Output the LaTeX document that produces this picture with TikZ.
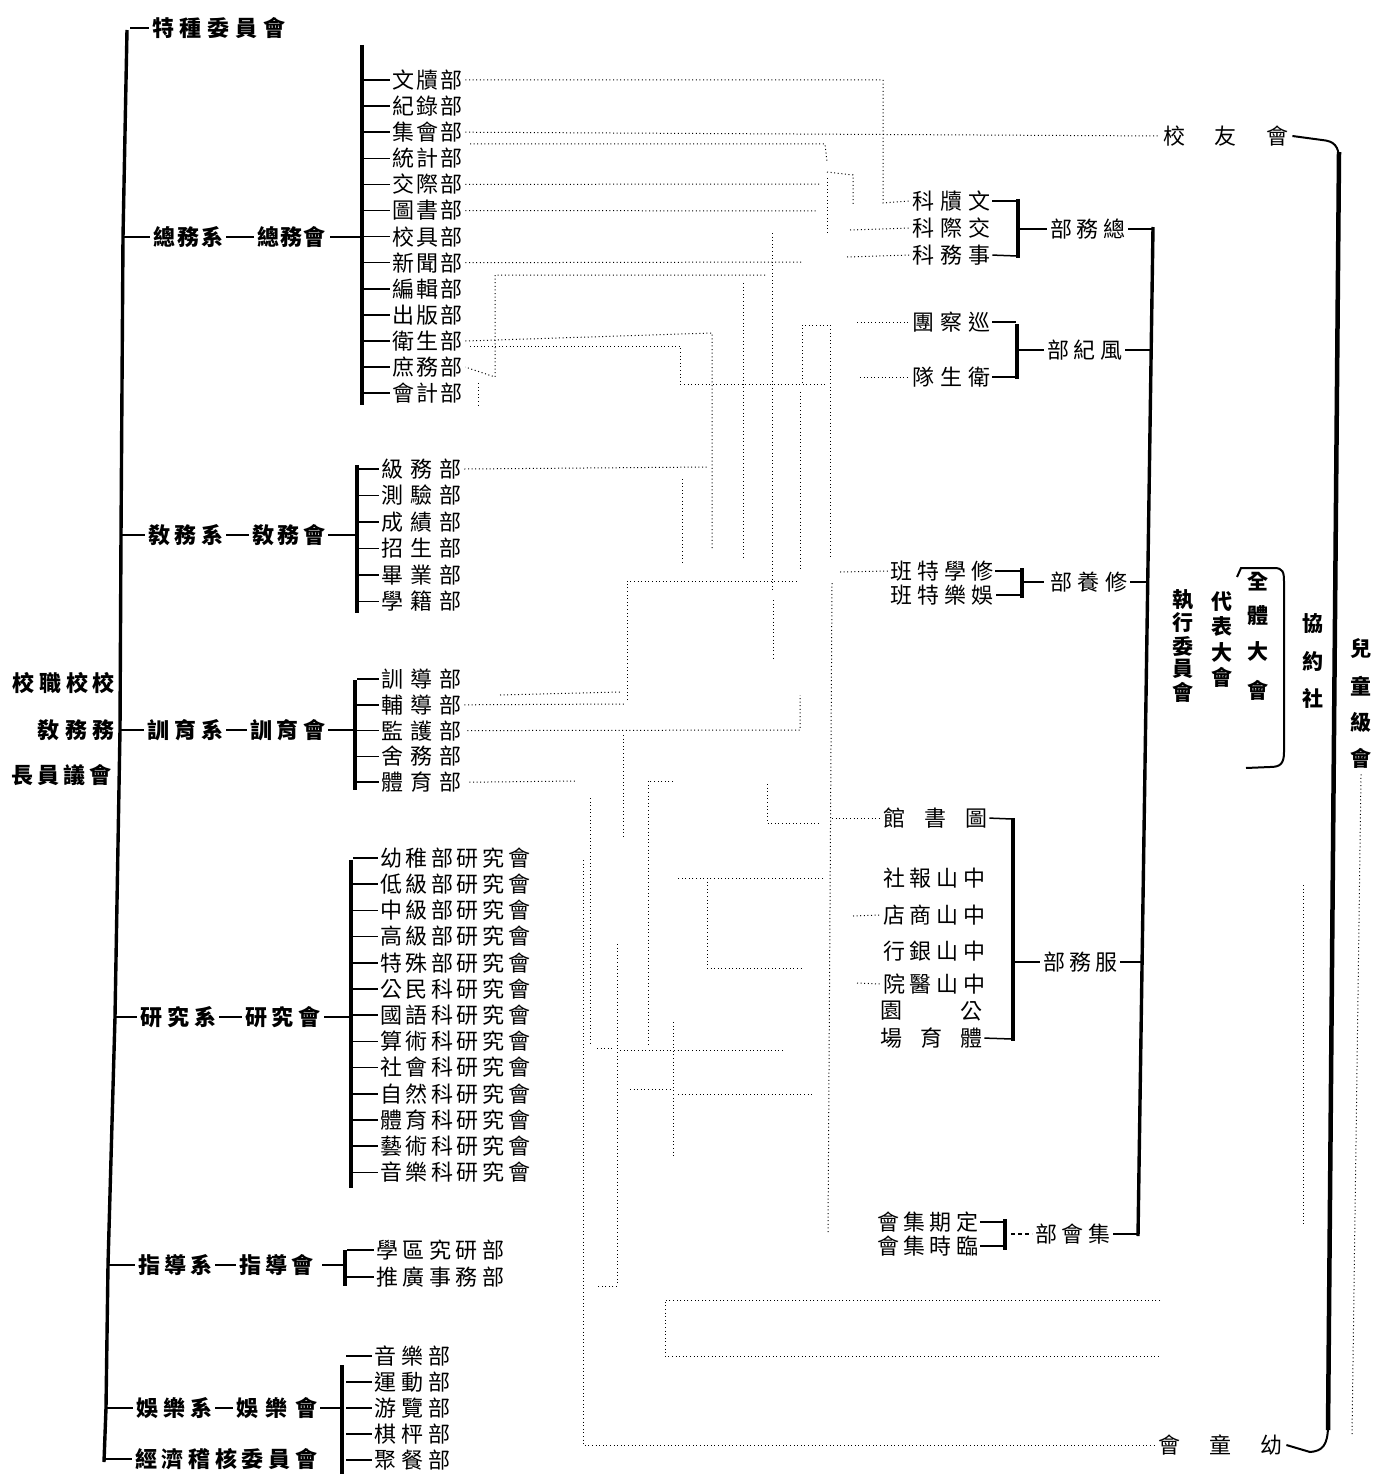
\documentclass[tikz,border=0pt]{standalone}
\usepackage{fontspec}
\setmainfont{Noto Sans CJK TC}
\newcommand\fsm{\fontsize{22}{22}\selectfont}
\newcommand\fsh{\fontsize{22}{22}\selectfont}
\newcommand\fsv{\fontsize{21}{21}\selectfont}
\def\spcA#1#2{#1\ifx\relax#2\else\hfill\expandafter\spcA\fi#2}
\newcommand\sx[2]{\makebox[#1][s]{\expandafter\spcA#2\relax}}
\tikzset{
 lt/.style={inner sep=0pt,anchor=west,font=\fsm},
 hd/.style={inner sep=0pt,anchor=west,font=\fsh\bfseries},
 vc/.style={inner sep=0pt,anchor=center,font=\fsv\bfseries},
 bar/.style={line width=3.4pt},
 tick/.style={line width=1.5pt},
 dotl/.style={line width=1pt,dash pattern=on 1pt off 2.6pt},
}
\begin{document}
\begin{tikzpicture}[x=1pt,y=-1pt]
\useasboundingbox[fill=white] (0,0) rectangle (1373,1474);

% ---------- main left line ----------
\draw[bar] (127,30) -- (123,237) -- (121,535) -- (120,730) -- (115,1017) -- (108,1265) -- (106,1408) -- (104,1462);

% left labels
\node[inner sep=0pt,anchor=east,font=\fsh\bfseries] (lb1) at (115,683) {\sx{102pt}{校職校校}};
\node[inner sep=0pt,anchor=east,font=\fsh\bfseries] (lb2) at (115,730) {\sx{77pt}{敎務務}};
\node[inner sep=0pt,anchor=east,font=\fsh\bfseries] (lb3) at (112,775) {\sx{100pt}{長員議會}};

% branches
\node[hd] (tzw) at (152,28) {\sx{133pt}{特種委員會}};
\draw[tick,shorten >=3pt] (130,28) -- (tzw.west);

\node[hd] (zwx) at (153,237) {\sx{70pt}{總務系}};
\node[hd] (zwh) at (257,237) {\sx{68pt}{總務會}};
\draw[tick,shorten >=3pt] (123,237) -- (zwx.west);
\draw[tick,shorten <=3pt,shorten >=3pt] (zwx.east) -- (zwh.west);
\draw[tick,shorten <=5pt] (zwh.east) -- (362,237);

\node[hd] (jwx) at (148,535) {\sx{75pt}{敎務系}};
\node[hd] (jwh) at (252,535) {\sx{73pt}{敎務會}};
\draw[tick,shorten >=3pt] (121,535) -- (jwx.west);
\draw[tick,shorten <=3pt,shorten >=3pt] (jwx.east) -- (jwh.west);
\draw[tick,shorten <=3pt] (jwh.east) -- (357,535);

\node[hd] (xyx) at (147,730) {\sx{76pt}{訓育系}};
\node[hd] (xyh) at (250,730) {\sx{75pt}{訓育會}};
\draw[tick,shorten >=3pt] (120,730) -- (xyx.west);
\draw[tick,shorten <=3pt,shorten >=3pt] (xyx.east) -- (xyh.west);
\draw[tick,shorten <=3pt] (xyh.east) -- (355,730);

\node[hd] (yjx) at (140,1017) {\sx{76pt}{研究系}};
\node[hd] (yjh) at (245,1017) {\sx{75pt}{研究會}};
\draw[tick,shorten >=3pt] (115,1017) -- (yjx.west);
\draw[tick,shorten <=3pt,shorten >=3pt] (yjx.east) -- (yjh.west);
\draw[tick,shorten <=4pt] (yjh.east) -- (351,1017);

\node[hd] (zdx) at (138,1265) {\sx{74pt}{指導系}};
\node[hd] (zdh) at (239,1265) {\sx{74pt}{指導會}};
\draw[tick,shorten >=3pt] (108,1265) -- (zdx.west);
\draw[tick,shorten <=3pt,shorten >=3pt] (zdx.east) -- (zdh.west);
\draw[tick,shorten <=9pt] (zdh.east) -- (345,1265);

\node[hd] (ylx) at (136,1408) {\sx{76pt}{娛樂系}};
\node[hd] (ylh) at (236,1408) {\sx{81pt}{娛樂會}};
\draw[tick,shorten >=3pt] (106,1408) -- (ylx.west);
\draw[tick,shorten <=3pt,shorten >=3pt] (ylx.east) -- (ylh.west);
\draw[tick,shorten <=3pt] (ylh.east) -- (342,1408);

\node[hd] (jjh) at (135,1459) {\sx{182pt}{經濟稽核委員會}};
\draw[tick,shorten >=3pt] (104,1459) -- (jjh.west);

% ---------- middle lists ----------
\draw[bar] (362,45) -- (362,405);
\foreach \t [count=\i from 0] in {文牘部,紀錄部,集會部,統計部,交際部,圖書部,校具部,新聞部,編輯部,出版部,衛生部,庶務部,會計部}{
  \node[lt] (zw\i) at (392,{80+26.1*\i}) {\sx{70pt}{\t}};
  \draw[tick] (364,{80+26.1*\i}) -- ([xshift=-2pt]zw\i.west);
}
\draw[bar] (357,465) -- (357,613);
\foreach \t [count=\i from 0] in {級務部,測驗部,成績部,招生部,畢業部,學籍部}{
  \node[lt] (jw\i) at (381,{469+26.5*\i}) {\sx{80pt}{\t}};
  \draw[tick] (359,{469+26.5*\i}) -- ([xshift=-2pt]jw\i.west);
}
\draw[bar] (355,680) -- (355,790);
\foreach \t [count=\i from 0] in {訓導部,輔導部,監護部,舍務部,體育部}{
  \node[lt] (xd\i) at (381,{679+25.8*\i}) {\sx{80pt}{\t}};
  \draw[tick] (357,{679+25.8*\i}) -- ([xshift=-2pt]xd\i.west);
}
\draw[bar] (351,860) -- (351,1188);
\foreach \t [count=\i from 0] in {幼稚部研究會,低級部研究會,中級部研究會,高級部研究會,特殊部研究會,公民科研究會,國語科研究會,算術科研究會,社會科研究會,自然科研究會,體育科研究會,藝術科研究會,音樂科研究會}{
  \node[lt] (yj\i) at (380,{858+26.2*\i}) {\sx{150pt}{\t}};
  \draw[tick] (353,{858+26.2*\i}) -- ([xshift=-2pt]yj\i.west);
}
\draw[bar] (345,1250) -- (345,1286);
\foreach \t [count=\i from 0] in {學區究研部,推廣事務部}{
  \node[lt] (zd\i) at (376,{1250+27*\i}) {\sx{128pt}{\t}};
  \draw[tick] (347,{1250+27*\i}) -- ([xshift=-2pt]zd\i.west);
}
\draw[bar] (342,1365) -- (342,1474);
\foreach \t [count=\i from 0] in {音樂部,運動部,游覽部,棋枰部,聚餐部}{
  \node[lt] (yl\i) at (374,{1356+26*\i}) {\sx{76pt}{\t}};
  \draw[tick] (346,{1356+26*\i}) -- ([xshift=-2pt]yl\i.west);
}

% ---------- right side ----------
\node[lt] (r1) at (912,201) {\sx{78pt}{科牘文}};
\node[lt] (r2) at (912,228) {\sx{78pt}{科際交}};
\node[lt] (r3) at (912,255) {\sx{78pt}{科務事}};
\draw[bar] (1018,199) -- (1018,258);
\draw[tick,shorten <=2pt] (r1.east) -- (1017,201);
\draw[tick,shorten <=2pt] (r3.east) -- (1017,256);
\node[lt] (zwb) at (1050,229) {\sx{75pt}{部務總}};
\draw[tick,shorten >=3pt] (1020,229) -- (zwb.west);
\draw[tick,shorten <=3pt] (zwb.east) -- (1153,229);

\node[lt] (r4) at (912,322) {\sx{78pt}{團察巡}};
\node[lt] (r5) at (912,377) {\sx{78pt}{隊生衛}};
\draw[bar] (1017,324) -- (1017,379);
\draw[tick,shorten <=2pt] (r4.east) -- (1016,322);
\draw[tick,shorten <=2pt] (r5.east) -- (1016,377);
\node[lt] (fjb) at (1047,350) {\sx{75pt}{部紀風}};
\draw[tick,shorten >=3pt] (1019,350) -- (fjb.west);
\draw[tick,shorten <=3pt] (fjb.east) -- (1151,350);

\node[lt] (r6) at (890,571) {\sx{103pt}{班特學修}};
\node[lt] (r7) at (890,595) {\sx{103pt}{班特樂娛}};
\draw[bar] (1022,568) -- (1022,598);
\draw[tick,shorten <=2pt] (r6.east) -- (1021,571);
\draw[tick,shorten <=3pt] (r7.east) -- (1021,595);
\node[lt] (xyb) at (1050,582) {\sx{77pt}{部養修}};
\draw[tick,shorten >=6pt] (1024,582) -- (xyb.west);
\draw[tick,shorten <=3pt] (xyb.east) -- (1148,582);

\node[lt] (r8) at (883,818) {\sx{104pt}{館書圖}};
\node[lt] (r9) at (883,878) {\sx{102pt}{社報山中}};
\node[lt] (r10) at (883,915) {\sx{102pt}{店商山中}};
\node[lt] (r11) at (883,951) {\sx{102pt}{行銀山中}};
\node[lt] (r12) at (883,984) {\sx{102pt}{院醫山中}};
\node[lt] (r13a) at (880,1011) {園};
\node[lt] (r13b) at (960,1011) {公};
\node[lt] (r14) at (880,1038) {\sx{102pt}{場育體}};
\draw[bar] (1013,818) -- (1013,1041);
\draw[tick,shorten <=2pt] (r8.east) -- (1012,819);
\draw[tick,shorten <=2pt] (r14.east) -- (1012,1039);
\node[lt] (fwb) at (1043,962) {\sx{74pt}{部務服}};
\draw[tick,shorten >=3pt] (1015,962) -- (fwb.west);
\draw[tick,shorten <=3pt] (fwb.east) -- (1143,962);

\node[lt] (r15) at (877,1222) {\sx{101pt}{會集期定}};
\node[lt] (r16) at (877,1246) {\sx{101pt}{會集時臨}};
\draw[bar] (1005,1219) -- (1005,1250);
\draw[tick,shorten <=2pt] (r15.east) -- (1004,1222);
\draw[tick,shorten <=2pt] (r16.east) -- (1004,1246);
\node[lt] (jhb) at (1035,1234) {\sx{75pt}{部會集}};
\draw[tick,dash pattern=on 4pt off 3pt,shorten >=3pt] (1011,1234) -- (jhb.west);
\draw[tick,shorten <=3pt] (jhb.east) -- (1139,1234);

% executive committee bracket
\draw[bar] (1153,227) -- (1138,1236);

% center vertical texts
\foreach \c/\y [count=\i] in {執/600,行/623,委/646,員/669,會/692}{\node[vc] (zx\i) at (1183,\y) {\c};}
\foreach \c/\y [count=\i] in {代/602,表/627,大/652,會/677}{\node[vc] (db\i) at (1222,\y) {\c};}
\foreach \c/\y [count=\i] in {全/582,體/616,大/651,會/690}{\node[vc] (qt\i) at (1258,\y) {\c};}
\foreach \c/\y [count=\i] in {協/624,約/661,社/698}{\node[vc] (xs\i) at (1313,\y) {\c};}
\draw[line width=2pt] (1237,577) -- (1241,568) -- (1274,568) .. controls (1283,568) and (1284,572) .. (1284,582) -- (1284,752) .. controls (1284,764) and (1280,767) .. (1270,767) -- (1246,768);

% outer brace
\node[lt] (xyou) at (1163,136) {\sx{125pt}{校友會}};
\node[lt] (ytong) at (1158,1445) {\sx{124pt}{會童幼}};
\draw[line width=2pt] ([xshift=4pt]xyou.east) -- (1322,140) .. controls (1334,141) and (1339,146) .. (1339,160);
\draw[line width=4.5pt] (1339,152) -- (1328,1430);
\draw[line width=2pt] (1328,1425) .. controls (1328,1446) and (1322,1451) .. (1310,1452) -- ([xshift=4pt]ytong.east);
\foreach \c/\y [count=\i] in {兒/648,童/686,級/722,會/758}{\node[vc] (er\i) at (1361,\y) {\c};}
\draw[dotl] ([yshift=-6pt]er4.south) -- (1352,1435);
\draw[dotl] (1303,885) -- (1303,1225);

% ---------- dotted connections ----------
\draw[dotl] ([xshift=3pt]zw0.east) -- (883,80) -- (883,203) -- ([xshift=-2pt]r1.west);
\draw[dotl] ([xshift=3pt]zw2.east) -- ([xshift=-3pt]xyou.west);
\draw[dotl] (470,144) -- (825,144) -- (827,162);
\draw[dotl] ([xshift=3pt]zw4.east) -- (820,184);
\draw[dotl] (827,172) -- (853,175) -- (853,205);
\draw[dotl] (827,178) -- (827,233);
\draw[dotl] ([xshift=3pt]zw5.east) -- (817,211);
\draw[dotl] (850,230) -- ([xshift=-2pt]r2.west);
\draw[dotl] (847,257) -- ([xshift=-2pt]r3.west);
\draw[dotl] ([xshift=3pt]zw7.east) -- (803,262);
\draw[dotl] (765,275) -- (495,275) -- (495,377) -- ([xshift=3pt]zw11.east);
\draw[dotl] (772,233) -- (772,592);
\draw[dotl] (743,283) -- (743,558);
\draw[dotl] (802,383) -- (802,325) -- (830,325) -- (830,558);
\draw[dotl] ([xshift=3pt]zw10.east) -- (712,333) -- (712,550);
\draw[dotl] (470,346) -- (680,346) -- (680,384) -- (827,384);
\draw[dotl] (857,322) -- ([xshift=-2pt]r4.west);
\draw[dotl] (860,377) -- ([xshift=-2pt]r5.west);
\draw[dotl] (478,383) -- (478,406);
\draw[dotl] (800,392) -- (800,570);
\draw[dotl] ([xshift=3pt]jw0.east) -- (708,467);
\draw[dotl] (682,479) -- (682,562);
\draw[dotl] (627,700) -- (627,581) -- (797,581);
\draw[dotl] (840,572) -- ([xshift=-2pt]r6.west);
\draw[dotl] (773,600) -- (773,658);
\draw[dotl] (832,583) -- (828,1232);
\draw[dotl] ([xshift=3pt]xd1.east) -- (625,704);
\draw[dotl] (500,695) -- (620,692);
\draw[dotl] ([xshift=6pt]xd2.east) -- (800,730) -- (800,695);
\draw[dotl] (623,735) -- (623,838);
\draw[dotl] ([xshift=8pt]xd4.east) -- (577,781);
\draw[dotl] (767,784) -- (767,823) -- (820,823);
\draw[dotl] (832,818) -- ([xshift=-3pt]r8.west);
\draw[dotl] (673,781) -- (648,781) -- (648,1045);
\draw[dotl] (823,878) -- (678,878);
\draw[dotl] (707,878) -- (707,968) -- (803,968);
\draw[dotl] (853,916) -- ([xshift=-2pt]r10.west);
\draw[dotl] (857,983) -- ([xshift=-2pt]r12.west);
\draw[dotl] (590,798) -- (590,1045);
\draw[dotl] (597,1048) -- (613,1048);
\draw[dotl] (620,1050) -- (785,1050);
\draw[dotl] (617,944) -- (617,1286) -- (597,1286);
\draw[dotl] (673,1022) -- (673,1158);
\draw[dotl] (630,1089) -- (670,1089);
\draw[dotl] (678,1094) -- (813,1094);
\draw[dotl] (1160,1300) -- (665,1300) -- (665,1356) -- (1160,1356);
\draw[dotl] (583,860) -- (583,1445) -- ([xshift=-4pt]ytong.west);
\end{tikzpicture}
\end{document}
